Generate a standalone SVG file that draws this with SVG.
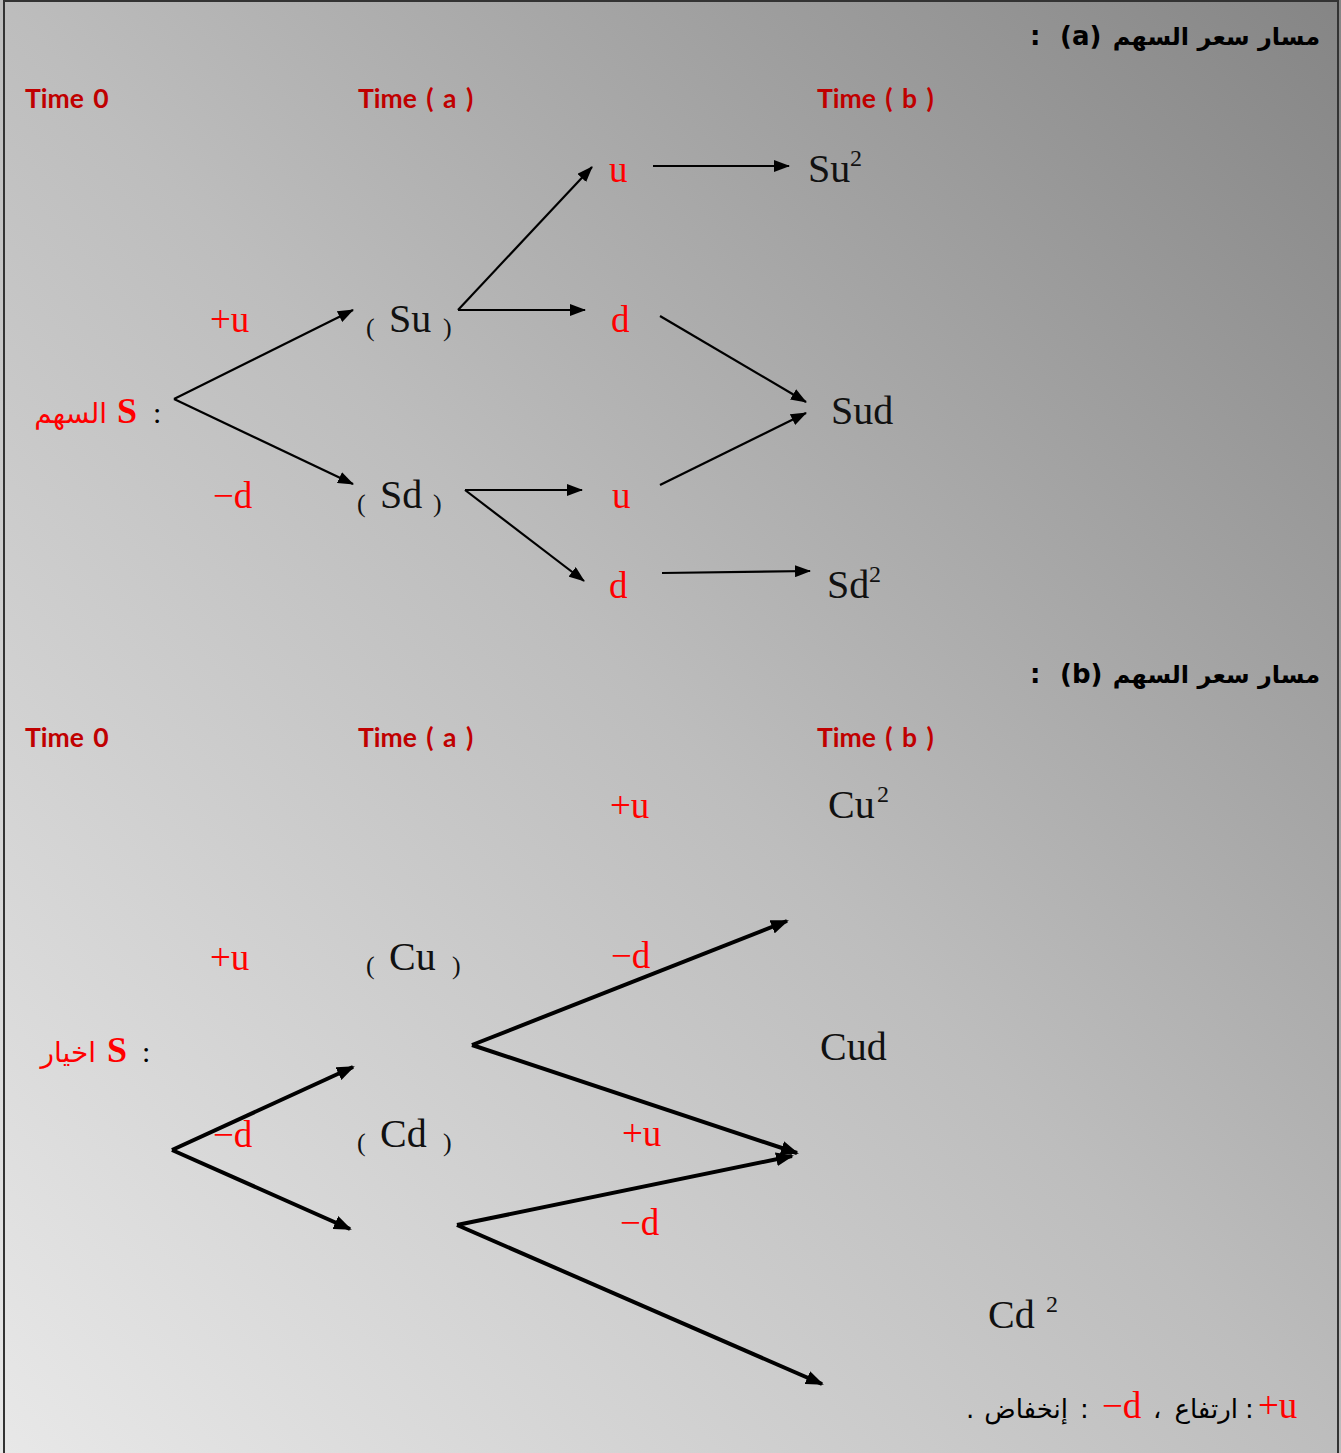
<svg xmlns="http://www.w3.org/2000/svg" width="1341" height="1453" viewBox="0 0 1341 1453">
<defs>
<linearGradient id="bg" x1="0" y1="1" x2="1" y2="0">
<stop offset="0" stop-color="#e8e8e8"/>
<stop offset="0.5" stop-color="#bdbdbd"/>
<stop offset="1" stop-color="#858585"/>
</linearGradient>
<marker id="ah" viewBox="0 0 16 12" refX="15" refY="6" markerWidth="16" markerHeight="12" markerUnits="userSpaceOnUse" orient="auto">
<path d="M0,0 L16,6 L0,12 Z" fill="#000"/>
</marker>
<marker id="ahb" viewBox="0 0 18 14" refX="16" refY="7" markerWidth="18" markerHeight="14" markerUnits="userSpaceOnUse" orient="auto">
<path d="M0,0 L18,7 L0,14 Z" fill="#000"/>
</marker>
</defs>
<style>
.time{font-family:Lato,"Liberation Sans",sans-serif;font-weight:bold;font-size:26.5px;fill:#c00000;word-spacing:3px}
.title{font-family:"DejaVu Sans",sans-serif;font-weight:bold;font-size:26px;fill:#000}
.titlear{font-family:"DejaVu Sans",sans-serif;font-weight:bold;font-size:24px;fill:#000}
.node{font-family:"Liberation Serif",serif;font-size:40px;fill:#111}
.par{font-family:"Liberation Serif",serif;font-size:26px;fill:#111}
.sup{font-family:"Liberation Serif",serif;font-size:24px;fill:#111}
.lab{font-family:"Liberation Serif",serif;font-size:37px;fill:#ff0000}
.ar{font-family:"DejaVu Sans",sans-serif;font-size:28px;fill:#ff0000}
.sb{font-family:"Liberation Serif",serif;font-weight:bold;font-size:36px;fill:#ff0000}
.col{font-family:"Liberation Serif",serif;font-size:30px;fill:#000}
.leg{font-family:"DejaVu Sans",sans-serif;font-size:26px;fill:#000}
.thin{stroke:#000;stroke-width:2.2;fill:none;marker-end:url(#ah)}
.thick{stroke:#000;stroke-width:4;fill:none;marker-end:url(#ahb)}
</style>
<rect x="0" y="0" width="1341" height="1453" fill="url(#bg)"/>
<rect x="4" y="1" width="1334" height="1460" fill="none" stroke="#333" stroke-width="2"/>

<!-- Part a -->
<g id="title-a">
<text class="titlear" x="1320" y="45" text-anchor="end">مسار سعر السهم</text>
<text class="title" x="1060" y="45">(a)</text>
<text class="title" x="1030" y="45">:</text>
</g>
<g id="times-a">
<text class="time" x="25" y="108">Time 0</text>
<text class="time" x="358" y="108">Time ( a )</text>
<text class="time" x="817" y="108">Time ( b )</text>
</g>
<g id="node-S-a">
<text class="ar" x="107" y="423" text-anchor="end">السهم</text>
<text class="sb" x="117" y="423">S</text>
<text class="col" x="153" y="423">:</text>
</g>
<g id="label-a-up"><text class="lab" x="210" y="332">+u</text></g>
<g id="label-a-down"><text class="lab" x="213" y="508">−d</text></g>
<g id="node-Su">
<text class="par" x="366" y="336">(</text>
<text class="node" x="389" y="332">Su</text>
<text class="par" x="443" y="336">)</text>
</g>
<g id="node-Sd">
<text class="par" x="357" y="512">(</text>
<text class="node" x="380" y="508">Sd</text>
<text class="par" x="433" y="512">)</text>
</g>
<g id="node-u1"><text class="lab" x="609" y="182">u</text></g>
<g id="node-d1"><text class="lab" x="611" y="332">d</text></g>
<g id="node-u2"><text class="lab" x="612" y="508">u</text></g>
<g id="node-d2"><text class="lab" x="609" y="598">d</text></g>
<g id="node-Su2"><text class="node" x="808" y="182">Su</text><text class="sup" x="850" y="166">2</text></g>
<g id="node-Sud"><text class="node" x="831" y="424">Sud</text></g>
<g id="node-Sd2"><text class="node" x="827" y="598">Sd</text><text class="sup" x="869" y="582">2</text></g>

<g id="connectors-a">
<line class="thin" x1="174" y1="399" x2="353" y2="310"/>
<line class="thin" x1="174" y1="399" x2="353" y2="484"/>
<line class="thin" x1="458" y1="310" x2="592" y2="167"/>
<line class="thin" x1="458" y1="310" x2="585" y2="310"/>
<line class="thin" x1="653" y1="166" x2="789" y2="166"/>
<line class="thin" x1="660" y1="316" x2="806" y2="402"/>
<line class="thin" x1="465" y1="490" x2="582" y2="490"/>
<line class="thin" x1="465" y1="490" x2="584" y2="581"/>
<line class="thin" x1="660" y1="485" x2="806" y2="413"/>
<line class="thin" x1="662" y1="573" x2="810" y2="571"/>
</g>

<!-- Part b -->
<g id="title-b">
<text class="titlear" x="1320" y="683" text-anchor="end">مسار سعر السهم</text>
<text class="title" x="1060" y="683">(b)</text>
<text class="title" x="1030" y="683">:</text>
</g>
<g id="times-b">
<text class="time" x="25" y="747">Time 0</text>
<text class="time" x="358" y="747">Time ( a )</text>
<text class="time" x="817" y="747">Time ( b )</text>
</g>
<g id="label-b-u-top"><text class="lab" x="610" y="818">+u</text></g>
<g id="node-Cu2"><text class="node" x="828" y="818">Cu</text><text class="sup" x="877" y="802">2</text></g>
<g id="label-b-up"><text class="lab" x="210" y="970">+u</text></g>
<g id="node-Cu">
<text class="par" x="366" y="974">(</text>
<text class="node" x="389" y="970">Cu</text>
<text class="par" x="452" y="974">)</text>
</g>
<g id="label-b-d1"><text class="lab" x="611" y="968">−d</text></g>
<g id="node-Cud"><text class="node" x="820" y="1060">Cud</text></g>
<g id="node-S-b">
<text class="ar" x="96" y="1062" text-anchor="end">اخيار</text>
<text class="sb" x="107" y="1062">S</text>
<text class="col" x="142" y="1062">:</text>
</g>
<g id="label-b-down"><text class="lab" x="213" y="1147">−d</text></g>
<g id="node-Cd">
<text class="par" x="357" y="1151">(</text>
<text class="node" x="380" y="1147">Cd</text>
<text class="par" x="443" y="1151">)</text>
</g>
<g id="label-b-u2"><text class="lab" x="622" y="1146">+u</text></g>
<g id="label-b-d2"><text class="lab" x="620" y="1235">−d</text></g>
<g id="node-Cd2"><text class="node" x="988" y="1328">Cd</text><text class="sup" x="1046" y="1312">2</text></g>

<g id="connectors-b">
<line class="thick" x1="172" y1="1150" x2="353" y2="1067"/>
<line class="thick" x1="172" y1="1150" x2="350" y2="1229"/>
<line class="thick" x1="472" y1="1045" x2="787" y2="921"/>
<line class="thick" x1="472" y1="1045" x2="797" y2="1153"/>
<line class="thick" x1="457" y1="1225" x2="792" y2="1156"/>
<line class="thick" x1="457" y1="1225" x2="822" y2="1384"/>
</g>

<g id="legend">
<text class="lab" x="1258" y="1418">+u</text>
<text class="leg" x="1245" y="1418">:</text>
<text class="leg" x="1238" y="1418" text-anchor="end">ارتفاع</text>
<text class="leg" x="1153" y="1418">،</text>
<text class="lab" x="1102" y="1418">−d</text>
<text class="leg" x="1080" y="1418">:</text>
<text class="leg" x="1068" y="1418" text-anchor="end">إنخفاض</text>
<text class="leg" x="966" y="1418">.</text>
</g>
</svg>
